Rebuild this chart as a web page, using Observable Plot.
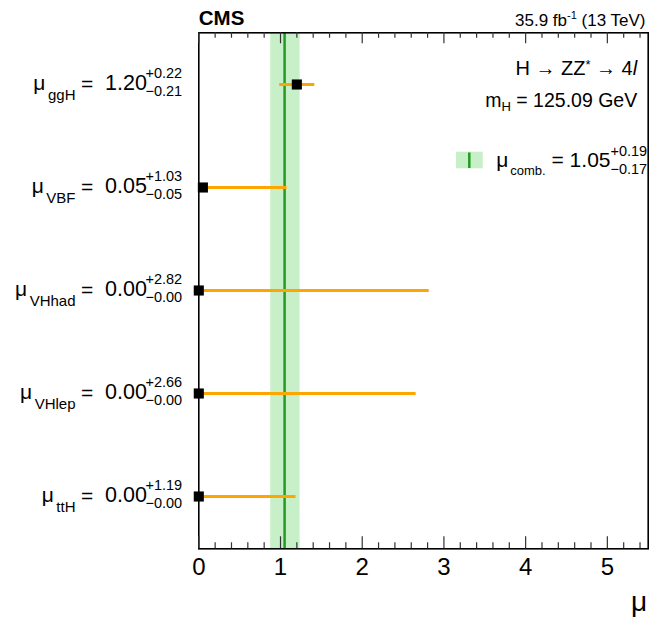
<!DOCTYPE html>
<html><head><meta charset="utf-8">
<script src="https://cdn.jsdelivr.net/npm/d3@7"></script>
<script src="https://cdn.jsdelivr.net/npm/@observablehq/plot@0.6"></script>
<style>
body{margin:0;background:#fff;}
svg{display:block;}
</style>
</head><body><div id="chart"></div>
<script>
// ---- data ----
const categories = ["ggH", "VBF", "VHhad", "VHlep", "ttH"];
const muValues = [1.20, 0.05, 0.00, 0.00, 0.00];
const errUp = [0.22, 1.03, 2.82, 2.66, 1.19];
const errDown = [0.21, 0.05, 0.00, 0.00, 0.00];
const muComb = [1.05];
const combUp = [0.19];
const combDown = [0.17];
const xMajorTicks = [0, 1, 2, 3, 4, 5];
const xMinorTicks = [0.2, 0.4, 0.6, 0.8, 1.2, 1.4, 1.6, 1.8, 2.2, 2.4, 2.6, 2.8,
  3.2, 3.4, 3.6, 3.8, 4.2, 4.4, 4.6, 4.8, 5.2, 5.4];
const xDomain = [0, 5.5];
const cmsLabel = ["CMS"];
const lumiLabel = ["35.9 fb^{-1} (13 TeV)"];
const processLabel = ["H → ZZ^{*} → 4~{l}"];
const massLabel = ["m_{H} = 125.09 GeV"];
const axisLabel = ["μ"];

const rows = categories.map((c, i) => ({cat: c, mu: muValues[i], up: errUp[i], down: errDown[i]}));
const comb = [{mu: muComb[0], up: combUp[0], down: combDown[0]}];
const fmt = d3.format(".2f");

// ---- layout ----
const W = 658, H = 620;
const mL = 198.3, mR = 10.3, mT = 32.3, mB = 71.7;
const frameH = H - mT - mB;
const FONT = "'Liberation Sans', Arial, Helvetica, sans-serif";
const ORANGE = "#ffa500", BAND = "#c8f0c8", GREEN = "#229b22";

const svg = Plot.plot({
  width: W, height: H,
  marginLeft: mL, marginRight: mR, marginTop: mT, marginBottom: mB,
  style: {fontFamily: FONT, color: "black", background: "white"},
  x: {domain: xDomain, axis: null},
  y: {type: "point", domain: categories, padding: 0.5, axis: null},
  marks: [
    Plot.rect(comb, {x1: d => d.mu - d.down, x2: d => d.mu + d.up, fill: BAND}),
    Plot.ruleX(comb, {x: "mu", stroke: GREEN, strokeWidth: 2.5}),
    Plot.frame({stroke: "black", strokeWidth: 1.6}),
    Plot.tickX(xMajorTicks, {x: d => d, insetTop: frameH - 12, stroke: "#333", strokeWidth: 1.2}),
    Plot.tickX(xMinorTicks, {x: d => d, insetTop: frameH - 6, stroke: "#333", strokeWidth: 1.2}),
    Plot.tickX(xMajorTicks, {x: d => d, insetBottom: frameH - 11, stroke: "#333", strokeWidth: 1.2}),
    Plot.tickX(xMinorTicks, {x: d => d, insetBottom: frameH - 5.5, stroke: "#333", strokeWidth: 1.2}),
    Plot.ruleY(rows, {y: "cat", x1: d => d.mu - d.down, x2: d => d.mu + d.up, stroke: ORANGE, strokeWidth: 3}),
    Plot.dot(rows, {x: "mu", y: "cat", symbol: "square", r: 5.7, fill: "black", stroke: null}),
    // row labels
    Plot.text(rows, {y: "cat", frameAnchor: "left", text: d => `μ_{${d.cat}}`, textAnchor: "end", lineAnchor: "bottom", dx: 75 - mL, dy: 5, fontSize: 21}),
    Plot.text(rows, {y: "cat", frameAnchor: "left", text: () => "=", textAnchor: "middle", lineAnchor: "bottom", dx: 86.5 - mL, dy: 6, fontSize: 21}),
    Plot.text(rows, {y: "cat", frameAnchor: "left", text: d => fmt(d.mu), textAnchor: "start", lineAnchor: "bottom", dx: 104.5 - mL, dy: 5, fontSize: 21.5}),
    Plot.text(rows, {y: "cat", frameAnchor: "left", text: d => "+" + fmt(d.up), textAnchor: "start", lineAnchor: "bottom", dx: 145 - mL, dy: -6.5, fontSize: 14.5}),
    Plot.text(rows, {y: "cat", frameAnchor: "left", text: d => "−" + fmt(d.down), textAnchor: "start", lineAnchor: "bottom", dx: 145 - mL, dy: 11.5, fontSize: 14.5}),
    // top labels
    Plot.text(cmsLabel, {frameAnchor: "top-left", text: d => d, textAnchor: "start", lineAnchor: "bottom", dy: -7.8, fontSize: 20.5, fontWeight: "bold"}),
    Plot.text(lumiLabel, {frameAnchor: "top-right", text: d => d, textAnchor: "end", lineAnchor: "bottom", dx: -2.7, dy: -7.3, fontSize: 17}),
    Plot.text(processLabel, {frameAnchor: "top-right", text: d => d, textAnchor: "end", lineAnchor: "bottom", dx: -11, dy: 41.7, fontSize: 20}),
    Plot.text(massLabel, {frameAnchor: "top-right", text: d => d, textAnchor: "end", lineAnchor: "bottom", dx: -11, dy: 73.7, fontSize: 19.5}),
    // legend text
    Plot.text(comb, {frameAnchor: "top-right", text: d => `μ_{comb.} = ${fmt(d.mu)}`, textAnchor: "end", lineAnchor: "bottom", dx: 610 - (W - mR), dy: 166 - mT, fontSize: 21}),
    Plot.text(comb, {frameAnchor: "top-right", text: d => "+" + fmt(d.up), textAnchor: "start", lineAnchor: "bottom", dx: 610 - (W - mR), dy: 155 - mT, fontSize: 14.5}),
    Plot.text(comb, {frameAnchor: "top-right", text: d => "−" + fmt(d.down), textAnchor: "start", lineAnchor: "bottom", dx: 610 - (W - mR), dy: 173 - mT, fontSize: 14.5}),
    // x tick labels and axis title
    Plot.text(xMajorTicks, {x: d => d, frameAnchor: "bottom", text: d => String(d), textAnchor: "middle", lineAnchor: "bottom", dy: 25.7, fontSize: 24}),
    Plot.text(axisLabel, {frameAnchor: "bottom-right", text: d => d, textAnchor: "end", lineAnchor: "bottom", dx: -1, dy: 61.7, fontSize: 28})
  ]
});

// rich text: _{sub}, ^{sup}, ~{italic}
function optsFor(s) {
  if (s.startsWith("μ_{comb")) return {subShift: 8, subSize: 13, gap: 2};
  if (s.startsWith("μ_")) return {subShift: 10, subSize: 15, gap: 2.5};
  if (s.startsWith("35.9")) return {supShift: 7, supSize: 11, gap: 0};
  if (s.startsWith("H ")) return {supShift: 6, supSize: 13, gap: 0};
  return {subShift: 4.5, subSize: 13, supShift: 6, supSize: 12, gap: 0};
}
d3.select(svg).selectAll("text").each(function() {
  const s = this.textContent;
  if (!/[_^~]\{/.test(s)) return;
  const opts = optsFor(s);
  const sel = d3.select(this);
  sel.text(null);
  const re = /([_^~])\{([^}]*)\}/g;
  let last = 0, m, shift = 0;
  const add = (str, kind) => {
    if (!str) return;
    const t = sel.append("tspan").text(str);
    let target = 0;
    if (kind === "_") { target = opts.subShift; t.attr("font-size", opts.subSize); if (opts.gap) t.attr("dx", opts.gap); }
    else if (kind === "^") { target = -opts.supShift; t.attr("font-size", opts.supSize); }
    else if (kind === "~") { t.attr("font-style", "italic"); }
    if (target !== shift) { t.attr("dy", target - shift); shift = target; }
  };
  while ((m = re.exec(s))) { add(s.slice(last, m.index), ""); add(m[2], m[1]); last = re.lastIndex; }
  add(s.slice(last), "");
});

// legend swatch (band + line)
const g = d3.select(svg).append("g").attr("aria-label", "legend-swatch");
g.append("rect").attr("x", 456).attr("y", 151.7).attr("width", 26.7).attr("height", 16.6).attr("fill", BAND);
g.append("line").attr("x1", 469.3).attr("x2", 469.3).attr("y1", 152.5).attr("y2", 168).attr("stroke", GREEN).attr("stroke-width", 2.5);

document.getElementById("chart").appendChild(svg);
</script>
</body></html>
